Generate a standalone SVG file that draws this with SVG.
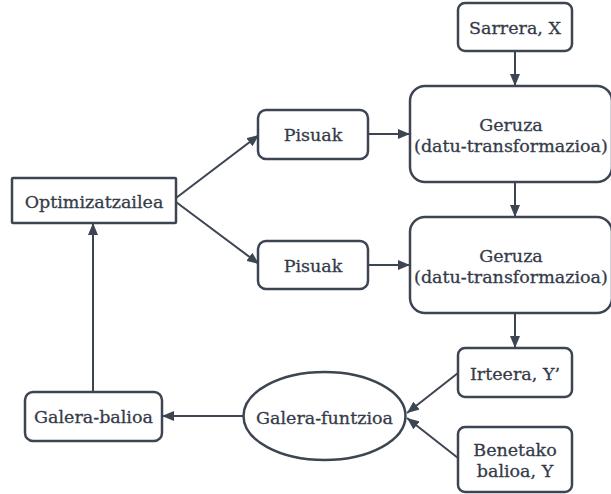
<svg xmlns="http://www.w3.org/2000/svg" width="611" height="494" viewBox="0 0 611 494">
<defs>
<marker id="ah" markerUnits="userSpaceOnUse" markerWidth="12" markerHeight="10" viewBox="0 0 12 10" refX="12" refY="5" orient="auto">
<path d="M0,0 L12,5 L0,10 z" fill="#3d4452"/>
</marker>
<style>
.n{fill:#fff;stroke:#3d4452;stroke-width:2.5}
.t{font-family:"DejaVu Serif","Liberation Serif",serif;font-size:17.5px;fill:#353b49;stroke:#353b49;stroke-width:0.3;text-anchor:middle}
.c{fill:none;stroke:#3d4452;stroke-width:2;marker-end:url(#ah)}
</style>
</defs>
<rect width="611" height="494" fill="#fff"/>
<g id="connectors">
<path class="c" d="M515,51 L515,86"/>
<path class="c" d="M515,182 L515,217"/>
<path class="c" d="M515,313 L515,348"/>
<path class="c" d="M368,134 L410,134"/>
<path class="c" d="M368,265 L410,265"/>
<path class="c" d="M176,198 L259,135"/>
<path class="c" d="M176,202 L259,264"/>
<path class="c" d="M458,373 L407,413"/>
<path class="c" d="M458,458 L407,418"/>
<path class="c" d="M243,416 L162,416"/>
<path class="c" d="M93,392 L93,223"/>
</g>
<g id="sarrera">
<rect class="n" x="458" y="3" width="114" height="48" rx="7"/>
<text class="t" x="515" y="34">Sarrera, X</text>
</g>
<g id="geruza1">
<rect class="n" x="410" y="86" width="202" height="96" rx="15"/>
<text class="t" x="511" y="131">Geruza</text>
<text class="t" x="511" y="152">(datu-transformazioa)</text>
</g>
<g id="geruza2">
<rect class="n" x="410" y="217" width="202" height="96" rx="15"/>
<text class="t" x="511" y="262">Geruza</text>
<text class="t" x="511" y="283">(datu-transformazioa)</text>
</g>
<g id="pisuak1">
<rect class="n" x="258" y="110" width="110" height="49" rx="8"/>
<text class="t" x="313" y="141">Pisuak</text>
</g>
<g id="pisuak2">
<rect class="n" x="258" y="241" width="110" height="48" rx="8"/>
<text class="t" x="313" y="272">Pisuak</text>
</g>
<g id="optimizatzailea">
<rect class="n" x="12" y="178" width="164" height="45" rx="1"/>
<text class="t" x="94" y="208">Optimizatzailea</text>
</g>
<g id="irteera">
<rect class="n" x="458" y="348" width="114" height="49" rx="7"/>
<text class="t" x="515" y="380">Irteera, Y’</text>
</g>
<g id="benetako">
<rect class="n" x="458" y="427" width="114" height="65" rx="7"/>
<text class="t" x="515" y="456">Benetako</text>
<text class="t" x="515" y="477">balioa, Y</text>
</g>
<g id="galera-funtzioa">
<ellipse class="n" cx="324.5" cy="416" rx="81" ry="44"/>
<text class="t" x="324.5" y="424">Galera-funtzioa</text>
</g>
<g id="galera-balioa">
<rect class="n" x="25" y="392" width="137" height="49" rx="8"/>
<text class="t" x="93.5" y="423">Galera-balioa</text>
</g>
</svg>
